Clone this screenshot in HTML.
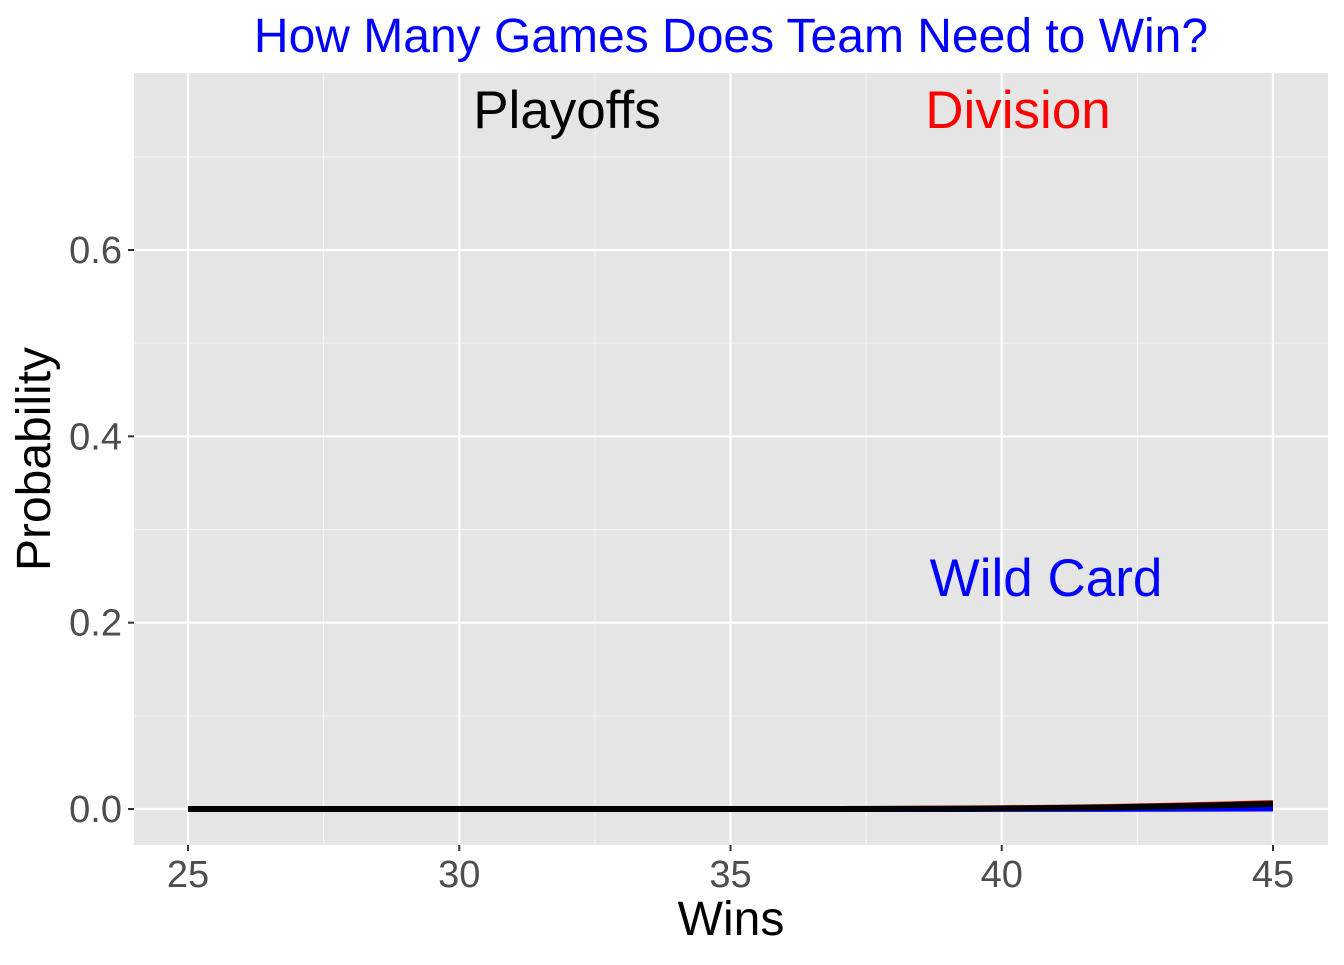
<!DOCTYPE html>
<html><head><meta charset="utf-8"><style>
body{margin:0;background:#fff;font-family:"Liberation Sans",Arial,sans-serif}
</style></head><body>
<svg id="c" width="1344" height="960" xmlns="http://www.w3.org/2000/svg"></svg>
<script>
const wins=[25,26,27,28,29,30,31,32,33,34,35,36,37,38,39,40,41,42,43,44,45];
const divisionP=[0,0,0,0,0,0,0,0,0,0,0,0,0,0.0002,0.0004,0.0008,0.0014,0.0022,0.0033,0.0047,0.0063];
const wildP=[0,0,0,0,0,0,0,0,0,0,0,0,0,0,0,0.0001,0.0001,0.0002,0.0003,0.0004,0.0005];
const playoffP=[0,0,0,0,0,0,0,0,0,0,0,0,0,0.0001,0.0003,0.0006,0.0011,0.0018,0.0028,0.004,0.0055];
const xTicks=[25,30,35,40,45];
const yTicks=[0,0.2,0.4,0.6];
const NS="http://www.w3.org/2000/svg";
const svg=document.getElementById('c');
const X=v=>188+(v-25)*(1273-188)/20;
const Y=v=>809-v*(809-250)/0.6;
function el(t,a,txt){const e=document.createElementNS(NS,t);for(const k in a)e.setAttribute(k,a[k]);if(txt!=null)e.textContent=txt;svg.appendChild(e);return e;}
let p=el('rect',{x:134,y:73,width:1194,height:772,fill:'#e5e5e5'});


for(let i=0;i<yTicks.length-1;i++){const m=(yTicks[i]+yTicks[i+1])/2;let g=el('line',{x1:134,x2:1328,y1:Y(m),y2:Y(m),stroke:'#f5f5f5','stroke-width':1});}
let gm=el('line',{x1:134,x2:1328,y1:Y(0.7),y2:Y(0.7),stroke:'#f5f5f5','stroke-width':1});
for(let i=0;i<xTicks.length-1;i++){const m=(xTicks[i]+xTicks[i+1])/2;let g=el('line',{x1:X(m),x2:X(m),y1:73,y2:845,stroke:'#f5f5f5','stroke-width':1});}
yTicks.forEach(t=>{let g=el('line',{x1:134,x2:1328,y1:Y(t),y2:Y(t),stroke:'#fff','stroke-width':2.2});
let k=el('line',{x1:128,x2:134,y1:Y(t),y2:Y(t),stroke:'#333','stroke-width':2});
let l=el('text',{x:122,y:Y(t)+13,'text-anchor':'end','font-size':38,fill:'#4d4d4d'},t.toFixed(1));});
xTicks.forEach(t=>{let g=el('line',{x1:X(t),x2:X(t),y1:73,y2:845,stroke:'#fff','stroke-width':2.2});
let k=el('line',{x1:X(t),x2:X(t),y1:845,y2:851,stroke:'#333','stroke-width':2});
let l=el('text',{x:X(t),y:887,'text-anchor':'middle','font-size':38,fill:'#4d4d4d'},t);});
function line(vals,col,w,name){const d=vals.map((v,i)=>(i?'L':'M')+X(wins[i])+','+Y(v)).join('');let e=el('path',{d:d,fill:'none',stroke:col,'stroke-width':w});}
line(divisionP,'#ff0000',6,'division-line');
line(wildP,'#0000ff',6,'wild-card-line');
line(playoffP,'#000000',6,'playoffs-line');
let t=el('text',{x:731,y:52,'text-anchor':'middle','font-size':48,fill:'#0000ff'},'How Many Games Does Team Need to Win?');
t=el('text',{x:567,y:128,'text-anchor':'middle','font-size':53,fill:'#000'},'Playoffs');
t=el('text',{x:1018,y:128,'text-anchor':'middle','font-size':53,fill:'#ff0000'},'Division');
t=el('text',{x:1046,y:596,'text-anchor':'middle','font-size':53,fill:'#0000ff'},'Wild Card');
t=el('text',{x:731,y:935,'text-anchor':'middle','font-size':48,fill:'#000'},'Wins');
t=el('text',{x:0,y:0,'text-anchor':'middle','font-size':48,fill:'#000',transform:'translate(50,459) rotate(-90)'},'Probability');
</script>
</body></html>
